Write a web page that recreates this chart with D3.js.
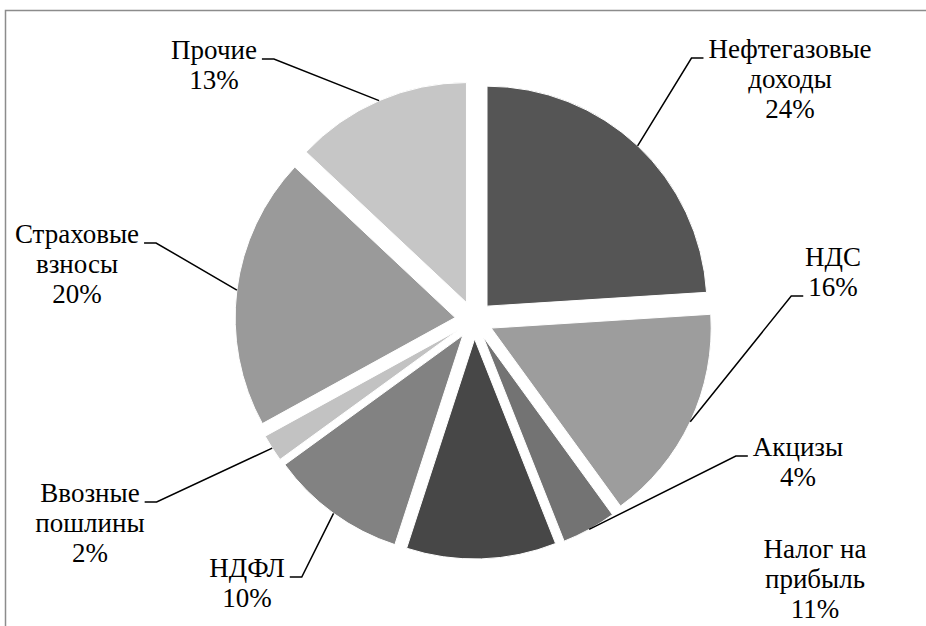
<!DOCTYPE html>
<html>
<head>
<meta charset="utf-8">
<script src="https://cdn.jsdelivr.net/npm/d3@7"></script>
</head>
<body style="margin:0">
<svg width="926" height="626"></svg>
<script>
// доли доходов бюджета, %
var categories = ["Нефтегазовые\nдоходы", "НДС", "Акцизы", "Налог на\nприбыль", "НДФЛ", "Ввозные\nпошлины", "Страховые\nвзносы", "Прочие"];
var shares = [24, 16, 4, 11, 10, 2, 20, 13];
var sliceColors = ["#555555", "#9d9d9d", "#737373", "#474747", "#828282", "#c2c2c2", "#9a9a9a", "#c6c6c6"];

// label placement: text centre x, first baseline y, which line the leader meets (-1 = none)
var labelPos = [[790, 58, 0], [833, 266, 1], [798, 456, 0], [815, 558, -1], [247, 577, 0], [90, 502, 0], [77, 243, 0], [214, 59, 0]];

var svg = d3.select("svg"),
	cx = 474, cy = 320,
	radius = 220,
	explode = 19,
	lineH = 30;

// chart area frame
svg.append("rect")
	.attr("x", 5.5).attr("y", 10.5)
	.attr("width", 1000).attr("height", 1000)
	.attr("fill", "none")
	.attr("stroke", "#8c8c8c")
	.attr("stroke-width", 1.5);

var pie = d3.pie().sort(null).value(function(d) { return d; });
var arc = d3.arc().innerRadius(0).outerRadius(radius);
var rim = d3.arc().innerRadius(radius).outerRadius(radius);

var arcs = pie(shares);

function offset(d) {
	var a = (d.startAngle + d.endAngle) / 2;
	return [explode * Math.sin(a), -explode * Math.cos(a)];
}

var g = svg.append("g").attr("transform", "translate(" + cx + "," + cy + ")");

g.selectAll("path.slice")
	.data(arcs)
	.enter().append("path")
	.attr("class", "slice")
	.attr("transform", function(d) { var o = offset(d); return "translate(" + o[0] + "," + o[1] + ")"; })
	.attr("d", arc)
	.attr("fill", function(d, i) { return sliceColors[i]; })
	.attr("stroke", "#fff")
	.attr("stroke-width", 1);

// labels: one <text> per line
var lineNodes = [];
arcs.forEach(function(d, i) {
	var lines = categories[i].split("\n").concat([shares[i] + "%"]);
	lineNodes[i] = lines.map(function(s, k) {
		return svg.append("text")
			.style("font-family", "'Times New Roman', Tinos, 'Liberation Serif', serif")
			.style("font-size", "27px")
			.attr("text-anchor", "middle")
			.attr("x", labelPos[i][0])
			.attr("y", labelPos[i][1] + k * lineH)
			.text(s)
			.node();
	});
});

// leader lines
arcs.forEach(function(d, i) {
	var k = labelPos[i][2];
	if (k < 0) return;
	var w = lineNodes[i][k].getComputedTextLength();
	var y = labelPos[i][1] + k * lineH;
	var p = rim.centroid(d), o = offset(d);
	var sx = cx + p[0] + o[0], sy = cy + p[1] + o[1];
	var right = labelPos[i][0] > cx;
	var edge = right ? labelPos[i][0] - w / 2 - 5 : labelPos[i][0] + w / 2 + 5;
	var elbow = right ? edge - 12 : edge + 12;
	svg.append("path")
		.attr("d", d3.line()([[sx, sy], [elbow, y], [edge, y]]))
		.attr("fill", "none")
		.attr("stroke", "#000")
		.attr("stroke-width", 1.5);
});
</script>
</body>
</html>
